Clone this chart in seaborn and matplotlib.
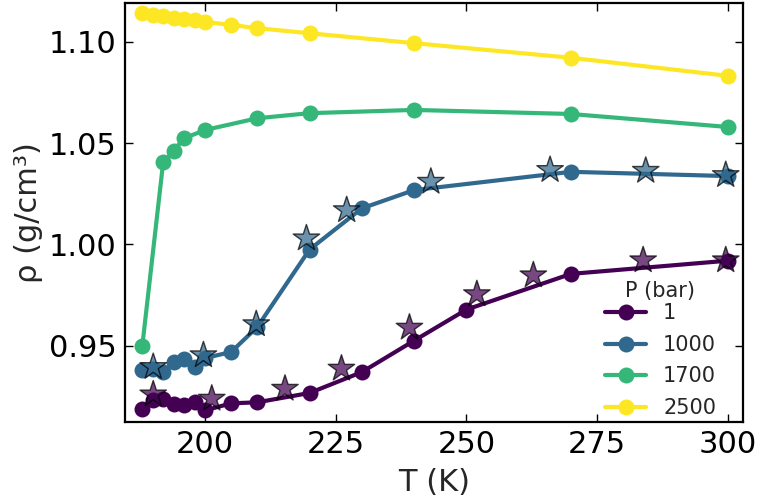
import numpy as np
import pandas as pd
import matplotlib
matplotlib.use("Agg")
import matplotlib.pyplot as plt
from matplotlib.lines import Line2D
import seaborn as sns

# Simulated density isobars
pressures = ["1", "1000", "1700", "2500"]

T_1 = [188, 190, 192, 194, 196, 198, 200, 205, 210, 220, 230, 240, 250, 270, 300]
rho_1 = [0.9190, 0.9232, 0.9238, 0.9212, 0.9210, 0.9225, 0.9182, 0.9217, 0.9222,
         0.9268, 0.9371, 0.9526, 0.9679, 0.9855, 0.9920]

T_1000 = [188, 190, 192, 194, 196, 198, 200, 205, 210, 220, 230, 240, 270, 300]
rho_1000 = [0.9380, 0.9385, 0.9370, 0.9419, 0.9435, 0.9397, 0.9440, 0.9470, 0.9593,
            0.9975, 1.0178, 1.0268, 1.0358, 1.0337]

T_1700 = [188, 192, 194, 196, 200, 210, 220, 240, 270, 300]
rho_1700 = [0.9498, 1.0405, 1.0462, 1.0523, 1.0564, 1.0622, 1.0647, 1.0663, 1.0643, 1.0579]

T_2500 = [188, 190, 192, 194, 196, 198, 200, 205, 210, 220, 240, 270, 300]
rho_2500 = [1.1143, 1.1132, 1.1127, 1.1118, 1.1111, 1.1104, 1.1097, 1.1082, 1.1066,
            1.1041, 1.0992, 1.0920, 1.0831]

# Reference (star) points for 1 bar and 1000 bar
Tref_1 = [190.1, 201.3, 215.3, 226.1, 239.1, 252.0, 262.8, 283.8, 299.6]
rhoref_1 = [0.9261, 0.9240, 0.9289, 0.9388, 0.9590, 0.9755, 0.9848, 0.9922, 0.9922]

Tref_1000 = [190.1, 199.7, 209.8, 219.4, 227.1, 243.2, 266.0, 284.3, 299.6]
rhoref_1000 = [0.9396, 0.9454, 0.9607, 1.0030, 1.0169, 1.0309, 1.0367, 1.0363, 1.0342]

sim = pd.concat([
    pd.DataFrame({"T": T_1, "rho": rho_1, "P": "1"}),
    pd.DataFrame({"T": T_1000, "rho": rho_1000, "P": "1000"}),
    pd.DataFrame({"T": T_1700, "rho": rho_1700, "P": "1700"}),
    pd.DataFrame({"T": T_2500, "rho": rho_2500, "P": "2500"}),
], ignore_index=True)

ref = pd.concat([
    pd.DataFrame({"T": Tref_1, "rho": rhoref_1, "P": "1"}),
    pd.DataFrame({"T": Tref_1000, "rho": rhoref_1000, "P": "1000"}),
], ignore_index=True)

sns.set_style("ticks", {"xtick.direction": "in", "ytick.direction": "in",
                        "axes.edgecolor": "black"})
plt.rcParams["font.family"] = ["DejaVu Sans"]

colors = [matplotlib.colors.to_hex(c) for c in plt.cm.viridis(np.linspace(0, 1, 4))]
palette = dict(zip(pressures, colors))

fig = plt.figure(figsize=(7.57, 5.01), dpi=100)
ax = fig.add_axes([125 / 757, 1 - 422 / 501, (743 - 125) / 757, (422 - 3) / 501])

sns.lineplot(data=sim, x="T", y="rho", hue="P", hue_order=pressures, palette=palette,
             marker="o", markersize=11.5, markeredgewidth=0, linewidth=3,
             estimator=None, legend=False, ax=ax)

sns.scatterplot(data=ref, x="T", y="rho", hue="P", hue_order=pressures, palette=palette,
                marker="*", s=400, alpha=0.72, edgecolor="black", linewidth=1,
                legend=False, ax=ax, zorder=5)

ax.set_xlim(184.7, 302.9)
ax.set_ylim(0.9125, 1.119)
ax.set_xticks([200, 225, 250, 275, 300])
ax.set_yticks([0.95, 1.00, 1.05, 1.10])
ax.set_yticklabels(["0.95", "1.00", "1.05", "1.10"])
ax.tick_params(axis="both", which="both", direction="in", top=True, right=True,
               labelsize=22, length=6, width=1, colors="black", pad=6)
for s in ax.spines.values():
    s.set_linewidth(1.6)
    s.set_color("black")

ax.set_xlabel("T (K)", fontsize=22, labelpad=6)
ax.set_ylabel("ρ (g/cm³)", fontsize=22, labelpad=4)

handles = [Line2D([], [], color=palette[p], marker="o", markersize=11.5,
                  markeredgewidth=0, linewidth=3) for p in pressures]
leg = ax.legend(handles, pressures, title="P (bar)", loc="lower right",
                bbox_to_anchor=(0.97, -0.01), frameon=False,
                fontsize=15, title_fontsize=15, borderaxespad=0.0, labelspacing=0.55,
                handletextpad=0.8)
# sit the legend title a little closer to the first entry
leg.get_title().set_y(-9)

fig.savefig("out.png", dpi=100)
